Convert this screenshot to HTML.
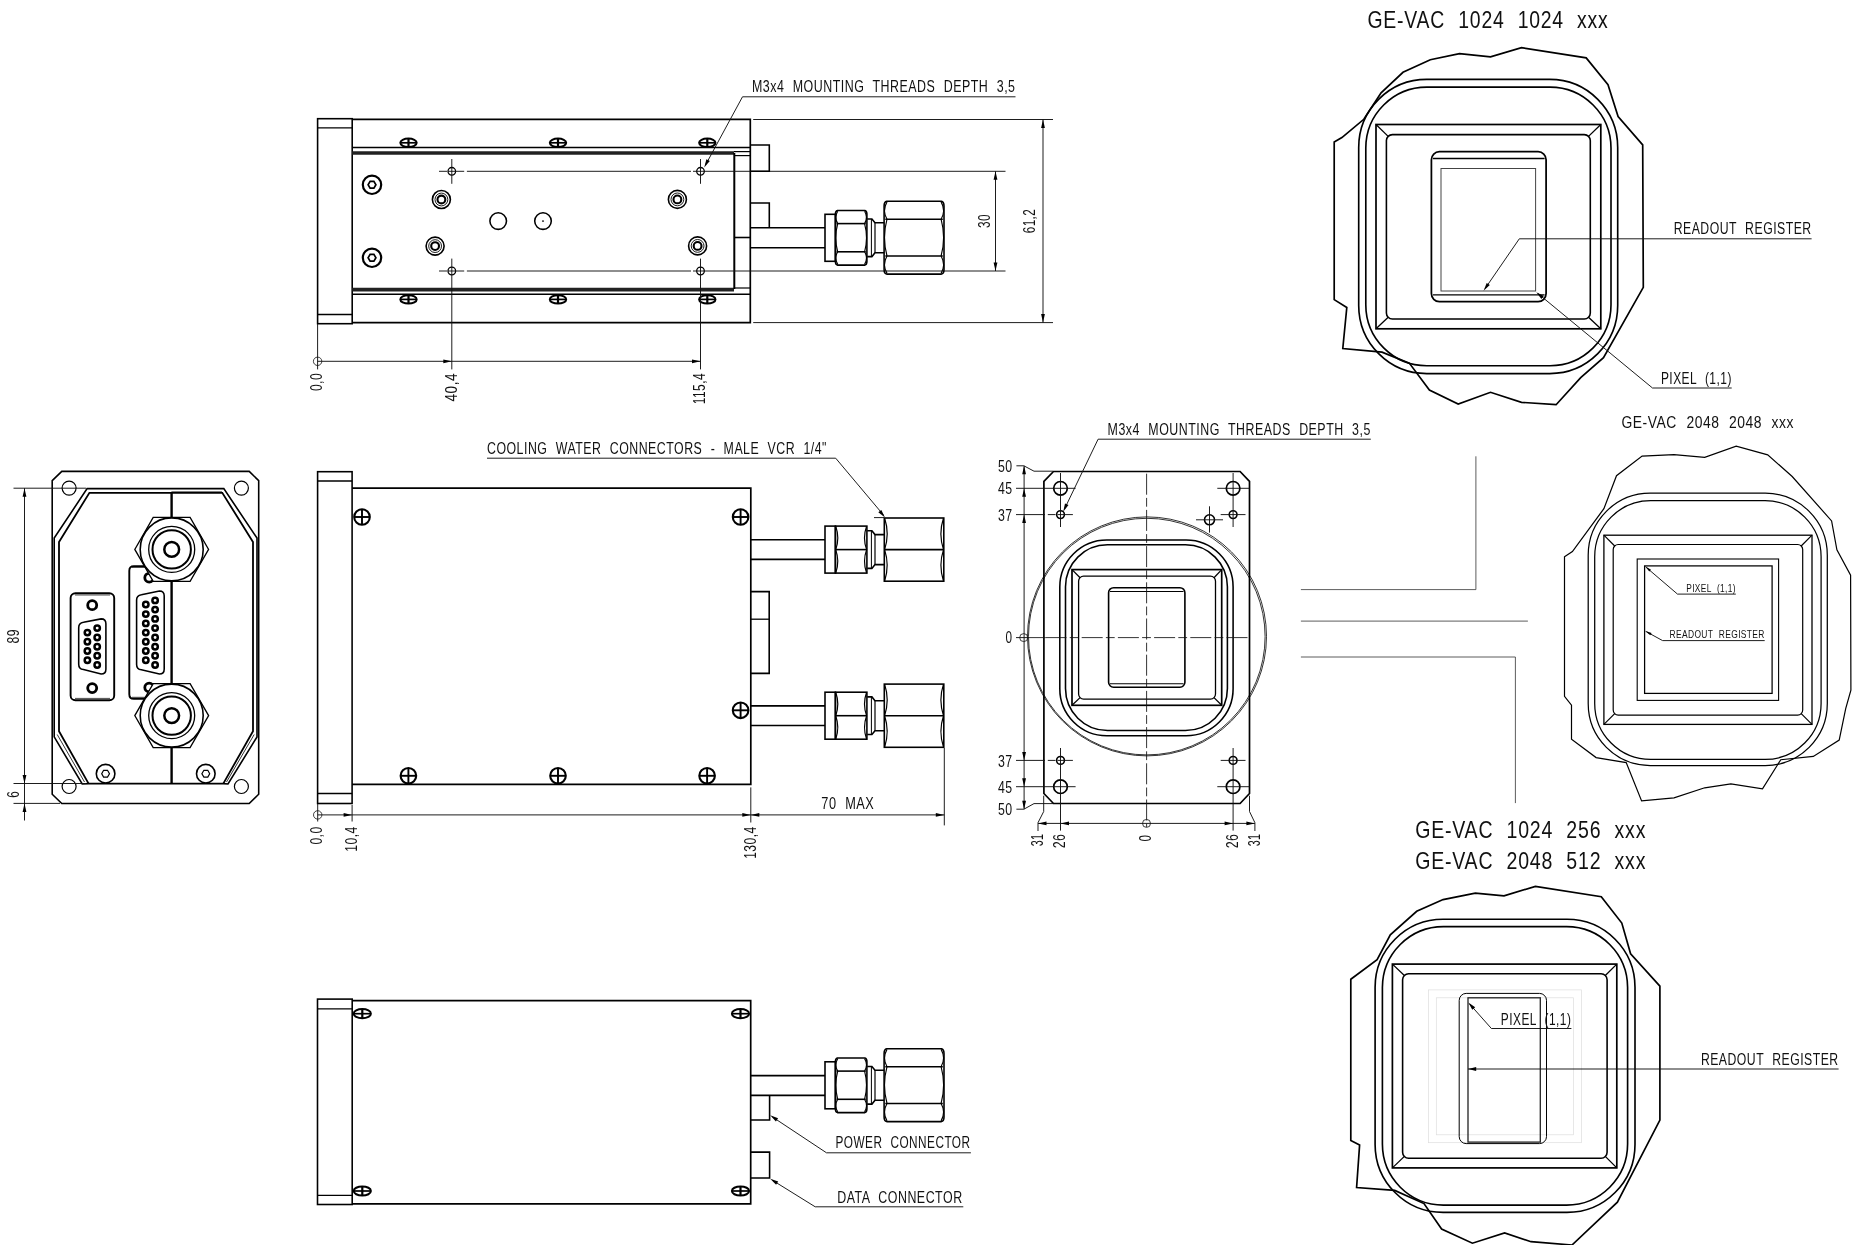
<!DOCTYPE html>
<html lang="en"><head><meta charset="utf-8"><title>GE-VAC mechanical drawing</title>
<style>
html,body{margin:0;padding:0;background:#fff;}
body{width:1867px;height:1245px;overflow:hidden;}
svg{display:block;will-change:transform;}
svg text{font-family:"Liberation Sans",sans-serif;fill:#111;word-spacing:0.36em;letter-spacing:0.04em;}
</style></head><body>
<svg width="1867" height="1245" viewBox="0 0 1867 1245" shape-rendering="geometricPrecision">
<rect x="0" y="0" width="1867" height="1245" fill="#fff"/>
<rect x="317.6" y="118.7" width="34.6" height="205.0" rx="0" fill="none" stroke="#000" stroke-width="1.58"/>
<line x1="317.6" y1="127.8" x2="352.2" y2="127.8" stroke="#000" stroke-width="1.3" />
<line x1="317.6" y1="314.5" x2="352.2" y2="314.5" stroke="#000" stroke-width="1.3" />
<polyline points="352.2,119.4 750.3,119.4 750.3,322.7 352.2,322.7" fill="none" stroke="#000" stroke-width="1.69" stroke-linejoin="miter" />
<line x1="352.2" y1="147.5" x2="750.3" y2="147.5" stroke="#000" stroke-width="1.58" />
<line x1="352.2" y1="153.0" x2="734.0" y2="153.0" stroke="#222" stroke-width="3.6" />
<line x1="734.0" y1="151.6" x2="750.3" y2="151.6" stroke="#000" stroke-width="1.2" />
<line x1="734.0" y1="155.6" x2="750.3" y2="155.6" stroke="#000" stroke-width="1.2" />
<line x1="352.2" y1="289.6" x2="734.0" y2="289.6" stroke="#222" stroke-width="3.6" />
<line x1="734.0" y1="288.0" x2="750.3" y2="288.0" stroke="#000" stroke-width="1.2" />
<line x1="352.2" y1="294.3" x2="750.3" y2="294.3" stroke="#000" stroke-width="1.58" />
<line x1="734.3" y1="153.0" x2="734.3" y2="289.0" stroke="#000" stroke-width="2.0" />
<line x1="734.0" y1="237.5" x2="750.3" y2="237.5" stroke="#000" stroke-width="1.58" />
<ellipse cx="408.5" cy="142.8" rx="8.2" ry="4.2" fill="none" stroke="#000" stroke-width="2.0"/>
<line x1="400.3" y1="142.8" x2="416.7" y2="142.8" stroke="#000" stroke-width="1.69" />
<line x1="408.5" y1="138.6" x2="408.5" y2="147.0" stroke="#000" stroke-width="2.2" />
<ellipse cx="408.5" cy="299.4" rx="8.2" ry="4.2" fill="none" stroke="#000" stroke-width="2.0"/>
<line x1="400.3" y1="299.4" x2="416.7" y2="299.4" stroke="#000" stroke-width="1.69" />
<line x1="408.5" y1="295.2" x2="408.5" y2="303.6" stroke="#000" stroke-width="2.2" />
<ellipse cx="558.0" cy="142.8" rx="8.2" ry="4.2" fill="none" stroke="#000" stroke-width="2.0"/>
<line x1="549.8" y1="142.8" x2="566.2" y2="142.8" stroke="#000" stroke-width="1.69" />
<line x1="558.0" y1="138.6" x2="558.0" y2="147.0" stroke="#000" stroke-width="2.2" />
<ellipse cx="558.0" cy="299.4" rx="8.2" ry="4.2" fill="none" stroke="#000" stroke-width="2.0"/>
<line x1="549.8" y1="299.4" x2="566.2" y2="299.4" stroke="#000" stroke-width="1.69" />
<line x1="558.0" y1="295.2" x2="558.0" y2="303.6" stroke="#000" stroke-width="2.2" />
<ellipse cx="707.3" cy="142.8" rx="8.2" ry="4.2" fill="none" stroke="#000" stroke-width="2.0"/>
<line x1="699.1" y1="142.8" x2="715.5" y2="142.8" stroke="#000" stroke-width="1.69" />
<line x1="707.3" y1="138.6" x2="707.3" y2="147.0" stroke="#000" stroke-width="2.2" />
<ellipse cx="707.3" cy="299.4" rx="8.2" ry="4.2" fill="none" stroke="#000" stroke-width="2.0"/>
<line x1="699.1" y1="299.4" x2="715.5" y2="299.4" stroke="#000" stroke-width="1.69" />
<line x1="707.3" y1="295.2" x2="707.3" y2="303.6" stroke="#000" stroke-width="2.2" />
<circle cx="372.0" cy="184.8" r="9.2" fill="none" stroke="#000" stroke-width="2.2"/>
<polygon points="375.9,184.8 373.9,188.2 370.1,188.2 368.1,184.8 370.1,181.4 373.9,181.4" fill="none" stroke="#000" stroke-width="1.69" stroke-linejoin="miter" />
<circle cx="372.0" cy="257.8" r="9.2" fill="none" stroke="#000" stroke-width="2.2"/>
<polygon points="375.9,257.8 373.9,261.2 370.1,261.2 368.1,257.8 370.1,254.4 373.9,254.4" fill="none" stroke="#000" stroke-width="1.69" stroke-linejoin="miter" />
<circle cx="441.4" cy="199.5" r="9.0" fill="none" stroke="#000" stroke-width="1.6"/>
<circle cx="441.4" cy="199.5" r="6.4" fill="none" stroke="#000" stroke-width="0.9"/>
<circle cx="441.4" cy="199.5" r="3.9" fill="none" stroke="#000" stroke-width="2.1"/>
<circle cx="435.1" cy="246.1" r="9.0" fill="none" stroke="#000" stroke-width="1.6"/>
<circle cx="435.1" cy="246.1" r="6.4" fill="none" stroke="#000" stroke-width="0.9"/>
<circle cx="435.1" cy="246.1" r="3.9" fill="none" stroke="#000" stroke-width="2.1"/>
<circle cx="677.4" cy="199.4" r="9.0" fill="none" stroke="#000" stroke-width="1.6"/>
<circle cx="677.4" cy="199.4" r="6.4" fill="none" stroke="#000" stroke-width="0.9"/>
<circle cx="677.4" cy="199.4" r="3.9" fill="none" stroke="#000" stroke-width="2.1"/>
<circle cx="697.6" cy="245.9" r="9.0" fill="none" stroke="#000" stroke-width="1.6"/>
<circle cx="697.6" cy="245.9" r="6.4" fill="none" stroke="#000" stroke-width="0.9"/>
<circle cx="697.6" cy="245.9" r="3.9" fill="none" stroke="#000" stroke-width="2.1"/>
<circle cx="498.2" cy="221.1" r="8.3" fill="none" stroke="#000" stroke-width="1.56"/>
<circle cx="543.0" cy="221.1" r="8.3" fill="none" stroke="#000" stroke-width="1.56"/>
<circle cx="543.0" cy="221.1" r="0.6" fill="#000" stroke="#000" stroke-width="0.6"/>
<circle cx="451.8" cy="171.3" r="3.8" fill="none" stroke="#000" stroke-width="1.3"/>
<circle cx="700.5" cy="171.3" r="3.8" fill="none" stroke="#000" stroke-width="1.3"/>
<line x1="439.0" y1="171.3" x2="447.0" y2="171.3" stroke="#111" stroke-width="0.95" />
<line x1="448.0" y1="171.3" x2="464.2" y2="171.3" stroke="#111" stroke-width="0.95" />
<line x1="466.9" y1="171.3" x2="691.0" y2="171.3" stroke="#111" stroke-width="0.95" />
<line x1="693.0" y1="171.3" x2="1005.5" y2="171.3" stroke="#111" stroke-width="0.95" />
<circle cx="451.8" cy="271.0" r="3.8" fill="none" stroke="#000" stroke-width="1.3"/>
<circle cx="700.5" cy="271.0" r="3.8" fill="none" stroke="#000" stroke-width="1.3"/>
<line x1="439.0" y1="271.0" x2="447.0" y2="271.0" stroke="#111" stroke-width="0.95" />
<line x1="448.0" y1="271.0" x2="464.2" y2="271.0" stroke="#111" stroke-width="0.95" />
<line x1="466.9" y1="271.0" x2="691.0" y2="271.0" stroke="#111" stroke-width="0.95" />
<line x1="693.0" y1="271.0" x2="1005.5" y2="271.0" stroke="#111" stroke-width="0.95" />
<line x1="451.8" y1="159.0" x2="451.8" y2="183.8" stroke="#111" stroke-width="0.95" />
<line x1="700.5" y1="159.0" x2="700.5" y2="183.8" stroke="#111" stroke-width="0.95" />
<line x1="451.8" y1="258.6" x2="451.8" y2="369.4" stroke="#111" stroke-width="0.95" />
<line x1="700.5" y1="258.6" x2="700.5" y2="369.4" stroke="#111" stroke-width="0.95" />
<polyline points="750.3,145.0 769.3,145.0 769.3,171.3 750.3,171.3" fill="none" stroke="#000" stroke-width="1.58" stroke-linejoin="miter" />
<polyline points="750.3,203.0 769.3,203.0 769.3,227.8" fill="none" stroke="#000" stroke-width="1.58" stroke-linejoin="miter" />
<line x1="750.3" y1="227.8" x2="825.0" y2="227.8" stroke="#000" stroke-width="1.58" />
<line x1="750.3" y1="247.8" x2="825.0" y2="247.8" stroke="#000" stroke-width="1.58" />
<rect x="825.0" y="214.3" width="10.4" height="47.0" rx="0" fill="none" stroke="#000" stroke-width="1.58"/>
<path d="M837.4,210.5 H864.9 Q866.9,211.1 866.9,214.1 V261.5 Q866.9,264.5 864.9,265.1 H837.4 Q835.4,264.5 835.4,261.5 V214.1 Q835.4,211.1 837.4,210.5 Z" fill="none" stroke="#000" stroke-width="1.58" />
<line x1="836.6" y1="223.6" x2="865.7" y2="223.6" stroke="#000" stroke-width="1.58" />
<line x1="836.6" y1="251.8" x2="865.7" y2="251.8" stroke="#000" stroke-width="1.58" />
<path d="M837.7,211.2 Q833.9,217.4 837.7,223.6" fill="none" stroke="#000" stroke-width="1.15" />
<path d="M864.6,211.2 Q868.4,217.4 864.6,223.6" fill="none" stroke="#000" stroke-width="1.15" />
<path d="M837.7,223.6 Q833.9,237.7 837.7,251.8" fill="none" stroke="#000" stroke-width="1.15" />
<path d="M864.6,223.6 Q868.4,237.7 864.6,251.8" fill="none" stroke="#000" stroke-width="1.15" />
<path d="M837.7,251.8 Q833.9,258.1 837.7,264.4" fill="none" stroke="#000" stroke-width="1.15" />
<path d="M864.6,251.8 Q868.4,258.1 864.6,264.4" fill="none" stroke="#000" stroke-width="1.15" />
<path d="M867.2,219.0 H871.9 L875.0,222.8 H884.1 M867.2,256.6 H871.9 L875.0,252.8 H884.1" fill="none" stroke="#000" stroke-width="1.58" />
<line x1="871.4" y1="219.0" x2="871.4" y2="256.6" stroke="#000" stroke-width="1.0" />
<line x1="875.0" y1="222.8" x2="875.0" y2="252.8" stroke="#000" stroke-width="1.2" />
<path d="M886.7,201.2 H941.4 Q944.0,201.8 944.0,205.9 V269.4 Q944.0,273.5 941.4,274.1 H886.7 Q884.1,273.5 884.1,269.4 V205.9 Q884.1,201.8 886.7,201.2 Z" fill="none" stroke="#000" stroke-width="1.58" />
<line x1="885.3" y1="219.2" x2="942.8" y2="219.2" stroke="#000" stroke-width="1.58" />
<line x1="885.3" y1="256.0" x2="942.8" y2="256.0" stroke="#000" stroke-width="1.58" />
<path d="M887.0,201.9 Q882.0,210.6 887.0,219.2" fill="none" stroke="#000" stroke-width="1.15" />
<path d="M941.1,201.9 Q946.1,210.6 941.1,219.2" fill="none" stroke="#000" stroke-width="1.15" />
<path d="M887.0,219.2 Q882.0,237.6 887.0,256.0" fill="none" stroke="#000" stroke-width="1.15" />
<path d="M941.1,219.2 Q946.1,237.6 941.1,256.0" fill="none" stroke="#000" stroke-width="1.15" />
<path d="M887.0,256.0 Q882.0,264.7 887.0,273.4" fill="none" stroke="#000" stroke-width="1.15" />
<path d="M941.1,256.0 Q946.1,264.7 941.1,273.4" fill="none" stroke="#000" stroke-width="1.15" />
<text x="752.0" y="92.1" font-size="16.5" text-anchor="start" textLength="263.5" lengthAdjust="spacingAndGlyphs" >M3x4 MOUNTING THREADS DEPTH 3,5</text>
<line x1="1015.5" y1="96.8" x2="742.5" y2="96.8" stroke="#111" stroke-width="0.95" />
<line x1="742.5" y1="96.8" x2="705.8" y2="164.5" stroke="#111" stroke-width="0.95" />
<polygon points="704.2,167.4 709.8,161.1 706.4,159.3" fill="#000" stroke="none"/>
<line x1="753.2" y1="119.5" x2="1053.0" y2="119.5" stroke="#111" stroke-width="0.95" />
<line x1="753.2" y1="322.6" x2="1053.0" y2="322.6" stroke="#111" stroke-width="0.95" />
<line x1="1043.0" y1="119.5" x2="1043.0" y2="322.6" stroke="#111" stroke-width="0.95" />
<polygon points="1043.0,119.5 1041.1,128.0 1044.9,128.0" fill="#000" stroke="none"/>
<polygon points="1043.0,322.6 1044.9,314.1 1041.1,314.1" fill="#000" stroke="none"/>
<line x1="995.5" y1="171.3" x2="995.5" y2="271.0" stroke="#111" stroke-width="0.95" />
<polygon points="995.5,171.3 993.6,179.8 997.4,179.8" fill="#000" stroke="none"/>
<polygon points="995.5,271.0 997.4,262.5 993.6,262.5" fill="#000" stroke="none"/>
<text x="990.2" y="221.0" font-size="17" text-anchor="middle" textLength="14.1" lengthAdjust="spacingAndGlyphs" transform="rotate(-90 990.2 221.0)" >30</text>
<text x="1035.3" y="221.0" font-size="17" text-anchor="middle" textLength="24.7" lengthAdjust="spacingAndGlyphs" transform="rotate(-90 1035.3 221.0)" >61,2</text>
<line x1="317.6" y1="324.0" x2="317.6" y2="357.0" stroke="#111" stroke-width="0.95" />
<circle cx="317.6" cy="361.3" r="4.2" fill="none" stroke="#111" stroke-width="0.8"/>
<line x1="317.6" y1="361.3" x2="700.5" y2="361.3" stroke="#111" stroke-width="0.95" />
<line x1="317.6" y1="357.0" x2="317.6" y2="369.4" stroke="#111" stroke-width="0.95" />
<polygon points="451.8,361.3 443.3,359.4 443.3,363.2" fill="#000" stroke="none"/>
<polygon points="700.5,361.3 692.0,359.4 692.0,363.2" fill="#000" stroke="none"/>
<text x="322.3" y="372.8" font-size="17" text-anchor="end" textLength="18.3" lengthAdjust="spacingAndGlyphs" transform="rotate(-90 322.3 372.8)" >0,0</text>
<text x="456.6" y="372.8" font-size="17" text-anchor="end" textLength="28.7" lengthAdjust="spacingAndGlyphs" transform="rotate(-90 456.6 372.8)" >40,4</text>
<text x="705.3" y="372.8" font-size="17" text-anchor="end" textLength="31.5" lengthAdjust="spacingAndGlyphs" transform="rotate(-90 705.3 372.8)" >115,4</text>
<polygon points="61.8,471.4 249.2,471.4 258.7,480.6 258.7,794.2 249.2,803.5 61.8,803.5 52.2,794.2 52.2,480.6" fill="none" stroke="#000" stroke-width="1.58" stroke-linejoin="miter" />
<circle cx="69.1" cy="488.1" r="7.0" fill="none" stroke="#000" stroke-width="1.2"/>
<circle cx="241.4" cy="488.1" r="7.0" fill="none" stroke="#000" stroke-width="1.2"/>
<circle cx="69.1" cy="786.5" r="7.0" fill="none" stroke="#000" stroke-width="1.2"/>
<circle cx="241.4" cy="786.5" r="7.0" fill="none" stroke="#000" stroke-width="1.2"/>
<polygon points="87.1,488.6 223.8,488.6 257.0,538.1 257.0,736.9 228.0,784.0 223.5,783.6 88.4,783.6 82.2,784.0 54.2,736.9 54.2,538.1" fill="none" stroke="#000" stroke-width="1.6" stroke-linejoin="miter" />
<polyline points="88.6,783.6 59.0,731.2 59.0,542.0 89.4,492.8 222.3,492.8 253.0,542.0 253.0,731.2 223.3,783.6" fill="none" stroke="#000" stroke-width="1.8" stroke-linejoin="miter" />
<line x1="57.2" y1="734.5" x2="84.5" y2="782.0" stroke="#000" stroke-width="0.8" />
<line x1="254.2" y1="734.5" x2="226.5" y2="782.0" stroke="#000" stroke-width="0.8" />
<line x1="171.6" y1="492.8" x2="171.6" y2="783.6" stroke="#000" stroke-width="2.4" />
<line x1="171.4" y1="492.0" x2="222.0" y2="492.0" stroke="#000" stroke-width="1.0" />
<path d="M171.4,566.1 H133.8 Q129.3,566.1 129.3,570.7 V694.2 Q129.3,698.8 133.8,698.8 H171.4" fill="none" stroke="#000" stroke-width="1.9" />
<line x1="132.0" y1="697.3" x2="171.0" y2="697.3" stroke="#000" stroke-width="0.7" />
<line x1="132.0" y1="567.5" x2="171.0" y2="567.5" stroke="#000" stroke-width="0.7" />
<path d="M136.6,600.1 Q136.6,595.3 141.4,594.7 L159.4,591.0 Q164.2,591.0 164.2,595.8 L164.2,669.2 Q164.2,674.0 159.4,674.0 L141.4,669.8 Q136.6,669.2 136.6,664.4 Z" fill="none" stroke="#000" stroke-width="1.56" />
<circle cx="145.8" cy="604.5" r="2.7" fill="none" stroke="#000" stroke-width="2.5"/>
<circle cx="145.8" cy="614.1" r="2.7" fill="none" stroke="#000" stroke-width="2.5"/>
<circle cx="145.8" cy="623.4" r="2.7" fill="none" stroke="#000" stroke-width="2.5"/>
<circle cx="145.8" cy="632.6" r="2.7" fill="none" stroke="#000" stroke-width="2.5"/>
<circle cx="145.8" cy="641.7" r="2.7" fill="none" stroke="#000" stroke-width="2.5"/>
<circle cx="145.8" cy="651.0" r="2.7" fill="none" stroke="#000" stroke-width="2.5"/>
<circle cx="145.8" cy="660.3" r="2.7" fill="none" stroke="#000" stroke-width="2.5"/>
<circle cx="155.1" cy="600.4" r="2.7" fill="none" stroke="#000" stroke-width="2.5"/>
<circle cx="155.1" cy="609.6" r="2.7" fill="none" stroke="#000" stroke-width="2.5"/>
<circle cx="155.1" cy="618.9" r="2.7" fill="none" stroke="#000" stroke-width="2.5"/>
<circle cx="155.1" cy="628.1" r="2.7" fill="none" stroke="#000" stroke-width="2.5"/>
<circle cx="155.1" cy="637.5" r="2.7" fill="none" stroke="#000" stroke-width="2.5"/>
<circle cx="155.1" cy="646.7" r="2.7" fill="none" stroke="#000" stroke-width="2.5"/>
<circle cx="155.1" cy="655.8" r="2.7" fill="none" stroke="#000" stroke-width="2.5"/>
<circle cx="155.1" cy="665.0" r="2.7" fill="none" stroke="#000" stroke-width="2.5"/>
<circle cx="149.2" cy="577.7" r="4.4" fill="none" stroke="#000" stroke-width="2.8"/>
<circle cx="149.2" cy="687.5" r="4.4" fill="none" stroke="#000" stroke-width="2.8"/>
<rect x="70.6" y="593.2" width="43.6" height="107.0" rx="4.8" fill="none" stroke="#000" stroke-width="1.9"/>
<line x1="75.0" y1="595.0" x2="110.0" y2="595.0" stroke="#000" stroke-width="0.7" />
<line x1="75.0" y1="698.4" x2="110.0" y2="698.4" stroke="#000" stroke-width="0.7" />
<path d="M78.7,627.7 Q78.7,622.9 83.5,622.3 L101.1,618.9 Q105.9,618.9 105.9,623.7 L105.9,669.2 Q105.9,674.0 101.1,674.0 L83.5,669.6 Q78.7,669.0 78.7,664.2 Z" fill="none" stroke="#000" stroke-width="1.56" />
<circle cx="87.4" cy="632.6" r="2.7" fill="none" stroke="#000" stroke-width="2.5"/>
<circle cx="87.4" cy="641.7" r="2.7" fill="none" stroke="#000" stroke-width="2.5"/>
<circle cx="87.4" cy="651.0" r="2.7" fill="none" stroke="#000" stroke-width="2.5"/>
<circle cx="87.4" cy="660.3" r="2.7" fill="none" stroke="#000" stroke-width="2.5"/>
<circle cx="97.2" cy="628.1" r="2.7" fill="none" stroke="#000" stroke-width="2.5"/>
<circle cx="97.2" cy="637.5" r="2.7" fill="none" stroke="#000" stroke-width="2.5"/>
<circle cx="97.2" cy="646.7" r="2.7" fill="none" stroke="#000" stroke-width="2.5"/>
<circle cx="97.2" cy="655.8" r="2.7" fill="none" stroke="#000" stroke-width="2.5"/>
<circle cx="97.2" cy="665.0" r="2.7" fill="none" stroke="#000" stroke-width="2.5"/>
<circle cx="92.2" cy="605.2" r="4.5" fill="none" stroke="#000" stroke-width="2.8"/>
<circle cx="92.2" cy="688.1" r="4.5" fill="none" stroke="#000" stroke-width="2.8"/>
<polygon points="208.6,549.4 190.1,581.4 153.2,581.4 134.8,549.4 153.2,517.4 190.1,517.4" fill="#fff" stroke="#000" stroke-width="1.3" stroke-linejoin="miter" />
<circle cx="171.7" cy="549.4" r="31.5" fill="none" stroke="#000" stroke-width="1.58"/>
<circle cx="171.7" cy="549.4" r="23.0" fill="none" stroke="#000" stroke-width="1.3"/>
<circle cx="171.7" cy="549.4" r="19.2" fill="none" stroke="#000" stroke-width="2.0"/>
<circle cx="171.7" cy="549.4" r="7.4" fill="none" stroke="#000" stroke-width="2.5"/>
<polygon points="208.6,715.6 190.1,747.6 153.2,747.6 134.8,715.6 153.2,683.6 190.1,683.6" fill="#fff" stroke="#000" stroke-width="1.3" stroke-linejoin="miter" />
<circle cx="171.7" cy="715.6" r="31.5" fill="none" stroke="#000" stroke-width="1.58"/>
<circle cx="171.7" cy="715.6" r="23.0" fill="none" stroke="#000" stroke-width="1.3"/>
<circle cx="171.7" cy="715.6" r="19.2" fill="none" stroke="#000" stroke-width="2.0"/>
<circle cx="171.7" cy="715.6" r="7.4" fill="none" stroke="#000" stroke-width="2.5"/>
<circle cx="105.6" cy="773.7" r="9.3" fill="none" stroke="#000" stroke-width="1.6"/>
<polygon points="109.5,773.7 107.5,777.1 103.6,777.1 101.7,773.7 103.6,770.3 107.5,770.3" fill="none" stroke="#000" stroke-width="1.2" stroke-linejoin="miter" />
<circle cx="205.8" cy="773.7" r="9.3" fill="none" stroke="#000" stroke-width="1.6"/>
<polygon points="209.7,773.7 207.8,777.1 203.9,777.1 201.9,773.7 203.9,770.3 207.8,770.3" fill="none" stroke="#000" stroke-width="1.2" stroke-linejoin="miter" />
<line x1="13.5" y1="488.2" x2="86.0" y2="488.2" stroke="#111" stroke-width="0.95" />
<line x1="13.5" y1="783.5" x2="86.0" y2="783.5" stroke="#111" stroke-width="0.95" />
<line x1="13.5" y1="803.4" x2="60.0" y2="803.4" stroke="#111" stroke-width="0.95" />
<line x1="24.5" y1="488.2" x2="24.5" y2="820.5" stroke="#111" stroke-width="0.95" />
<polygon points="24.5,488.2 22.6,496.7 26.4,496.7" fill="#000" stroke="none"/>
<polygon points="24.5,783.5 26.4,775.0 22.6,775.0" fill="#000" stroke="none"/>
<polygon points="24.5,803.4 22.6,811.9 26.4,811.9" fill="#000" stroke="none"/>
<text x="19.3" y="636.3" font-size="17" text-anchor="middle" textLength="14.5" lengthAdjust="spacingAndGlyphs" transform="rotate(-90 19.3 636.3)" >89</text>
<text x="19.3" y="794.2" font-size="17" text-anchor="middle" textLength="7.0" lengthAdjust="spacingAndGlyphs" transform="rotate(-90 19.3 794.2)" >6</text>
<rect x="317.6" y="471.7" width="34.5" height="331.8" rx="0" fill="none" stroke="#000" stroke-width="1.58"/>
<line x1="317.6" y1="481.0" x2="352.1" y2="481.0" stroke="#000" stroke-width="1.3" />
<line x1="317.6" y1="793.5" x2="352.1" y2="793.5" stroke="#000" stroke-width="1.3" />
<polyline points="352.1,488.1 750.8,488.1 750.8,784.3 352.1,784.3" fill="none" stroke="#000" stroke-width="1.69" stroke-linejoin="miter" />
<circle cx="362.0" cy="517.0" r="7.8" fill="none" stroke="#000" stroke-width="2.1"/>
<line x1="354.2" y1="517.0" x2="369.8" y2="517.0" stroke="#000" stroke-width="1.9" />
<line x1="362.0" y1="509.2" x2="362.0" y2="524.8" stroke="#000" stroke-width="1.9" />
<circle cx="740.6" cy="517.0" r="7.8" fill="none" stroke="#000" stroke-width="2.1"/>
<line x1="732.8" y1="517.0" x2="748.4" y2="517.0" stroke="#000" stroke-width="1.9" />
<line x1="740.6" y1="509.2" x2="740.6" y2="524.8" stroke="#000" stroke-width="1.9" />
<circle cx="740.6" cy="710.3" r="7.8" fill="none" stroke="#000" stroke-width="2.1"/>
<line x1="732.8" y1="710.3" x2="748.4" y2="710.3" stroke="#000" stroke-width="1.9" />
<line x1="740.6" y1="702.5" x2="740.6" y2="718.1" stroke="#000" stroke-width="1.9" />
<circle cx="408.4" cy="775.8" r="7.8" fill="none" stroke="#000" stroke-width="2.1"/>
<line x1="400.6" y1="775.8" x2="416.2" y2="775.8" stroke="#000" stroke-width="1.9" />
<line x1="408.4" y1="768.0" x2="408.4" y2="783.6" stroke="#000" stroke-width="1.9" />
<circle cx="558.0" cy="775.8" r="7.8" fill="none" stroke="#000" stroke-width="2.1"/>
<line x1="550.2" y1="775.8" x2="565.8" y2="775.8" stroke="#000" stroke-width="1.9" />
<line x1="558.0" y1="768.0" x2="558.0" y2="783.6" stroke="#000" stroke-width="1.9" />
<circle cx="707.1" cy="775.8" r="7.8" fill="none" stroke="#000" stroke-width="2.1"/>
<line x1="699.3" y1="775.8" x2="714.9" y2="775.8" stroke="#000" stroke-width="1.9" />
<line x1="707.1" y1="768.0" x2="707.1" y2="783.6" stroke="#000" stroke-width="1.9" />
<line x1="750.8" y1="539.8" x2="825.0" y2="539.8" stroke="#000" stroke-width="1.58" />
<line x1="750.8" y1="559.4" x2="825.0" y2="559.4" stroke="#000" stroke-width="1.58" />
<rect x="825.0" y="526.1" width="10.4" height="47.0" rx="0" fill="none" stroke="#000" stroke-width="1.58"/>
<rect x="835.4" y="526.1" width="31.5" height="47.0" rx="0" fill="none" stroke="#000" stroke-width="1.58"/>
<line x1="835.4" y1="549.6" x2="866.9" y2="549.6" stroke="#000" stroke-width="1.58" />
<path d="M835.7,526.1 Q839.9,537.9 835.7,549.6" fill="none" stroke="#000" stroke-width="1.2" />
<path d="M866.6,526.1 Q862.4,537.9 866.6,549.6" fill="none" stroke="#000" stroke-width="1.2" />
<path d="M835.7,549.6 Q839.9,561.4 835.7,573.1" fill="none" stroke="#000" stroke-width="1.2" />
<path d="M866.6,549.6 Q862.4,561.4 866.6,573.1" fill="none" stroke="#000" stroke-width="1.2" />
<path d="M867.2,530.8 H871.9 L875.0,534.6 H884.3 M867.2,568.4 H871.9 L875.0,564.6 H884.3" fill="none" stroke="#000" stroke-width="1.58" />
<line x1="871.4" y1="530.8" x2="871.4" y2="568.4" stroke="#000" stroke-width="1.0" />
<line x1="875.0" y1="534.6" x2="875.0" y2="564.6" stroke="#000" stroke-width="1.2" />
<rect x="884.3" y="518.0" width="59.5" height="63.2" rx="0" fill="none" stroke="#000" stroke-width="1.58"/>
<line x1="884.3" y1="549.6" x2="943.8" y2="549.6" stroke="#000" stroke-width="1.58" />
<path d="M884.6,518.0 Q889.8,533.8 884.6,549.6" fill="none" stroke="#000" stroke-width="1.2" />
<path d="M943.5,518.0 Q938.3,533.8 943.5,549.6" fill="none" stroke="#000" stroke-width="1.2" />
<path d="M884.6,549.6 Q889.8,565.4 884.6,581.2" fill="none" stroke="#000" stroke-width="1.2" />
<path d="M943.5,549.6 Q938.3,565.4 943.5,581.2" fill="none" stroke="#000" stroke-width="1.2" />
<line x1="750.8" y1="705.9" x2="825.0" y2="705.9" stroke="#000" stroke-width="1.58" />
<line x1="750.8" y1="725.5" x2="825.0" y2="725.5" stroke="#000" stroke-width="1.58" />
<rect x="825.0" y="692.2" width="10.4" height="47.0" rx="0" fill="none" stroke="#000" stroke-width="1.58"/>
<rect x="835.4" y="692.2" width="31.5" height="47.0" rx="0" fill="none" stroke="#000" stroke-width="1.58"/>
<line x1="835.4" y1="715.7" x2="866.9" y2="715.7" stroke="#000" stroke-width="1.58" />
<path d="M835.7,692.2 Q839.9,704.0 835.7,715.7" fill="none" stroke="#000" stroke-width="1.2" />
<path d="M866.6,692.2 Q862.4,704.0 866.6,715.7" fill="none" stroke="#000" stroke-width="1.2" />
<path d="M835.7,715.7 Q839.9,727.5 835.7,739.2" fill="none" stroke="#000" stroke-width="1.2" />
<path d="M866.6,715.7 Q862.4,727.5 866.6,739.2" fill="none" stroke="#000" stroke-width="1.2" />
<path d="M867.2,696.9 H871.9 L875.0,700.7 H884.3 M867.2,734.5 H871.9 L875.0,730.7 H884.3" fill="none" stroke="#000" stroke-width="1.58" />
<line x1="871.4" y1="696.9" x2="871.4" y2="734.5" stroke="#000" stroke-width="1.0" />
<line x1="875.0" y1="700.7" x2="875.0" y2="730.7" stroke="#000" stroke-width="1.2" />
<rect x="884.3" y="684.1" width="59.5" height="63.2" rx="0" fill="none" stroke="#000" stroke-width="1.58"/>
<line x1="884.3" y1="715.7" x2="943.8" y2="715.7" stroke="#000" stroke-width="1.58" />
<path d="M884.6,684.1 Q889.8,699.9 884.6,715.7" fill="none" stroke="#000" stroke-width="1.2" />
<path d="M943.5,684.1 Q938.3,699.9 943.5,715.7" fill="none" stroke="#000" stroke-width="1.2" />
<path d="M884.6,715.7 Q889.8,731.5 884.6,747.3" fill="none" stroke="#000" stroke-width="1.2" />
<path d="M943.5,715.7 Q938.3,731.5 943.5,747.3" fill="none" stroke="#000" stroke-width="1.2" />
<polyline points="750.8,591.6 769.2,591.6 769.2,673.4 750.8,673.4" fill="none" stroke="#000" stroke-width="1.58" stroke-linejoin="miter" />
<line x1="750.8" y1="619.2" x2="769.2" y2="619.2" stroke="#000" stroke-width="1.3" />
<text x="487.0" y="453.7" font-size="16" text-anchor="start" textLength="340.0" lengthAdjust="spacingAndGlyphs" >COOLING WATER CONNECTORS - MALE VCR 1/4&quot;</text>
<line x1="487.0" y1="458.2" x2="835.7" y2="458.2" stroke="#111" stroke-width="0.95" />
<line x1="835.7" y1="458.2" x2="883.3" y2="514.8" stroke="#111" stroke-width="0.95" />
<polygon points="885.0,517.4 881.3,509.9 878.3,512.3" fill="#000" stroke="none"/>
<line x1="874.0" y1="517.6" x2="884.0" y2="517.6" stroke="#111" stroke-width="0.95" />
<circle cx="317.7" cy="814.9" r="4.2" fill="none" stroke="#111" stroke-width="0.8"/>
<line x1="317.7" y1="814.9" x2="944.3" y2="814.9" stroke="#111" stroke-width="0.95" />
<line x1="317.7" y1="804.0" x2="317.7" y2="821.5" stroke="#111" stroke-width="0.95" />
<line x1="352.1" y1="805.0" x2="352.1" y2="821.5" stroke="#111" stroke-width="0.95" />
<line x1="750.8" y1="787.4" x2="750.8" y2="822.5" stroke="#111" stroke-width="0.95" />
<line x1="944.3" y1="748.0" x2="944.3" y2="825.4" stroke="#111" stroke-width="0.95" />
<polygon points="352.1,814.9 343.6,813.0 343.6,816.8" fill="#000" stroke="none"/>
<polygon points="750.8,814.9 742.3,813.0 742.3,816.8" fill="#000" stroke="none"/>
<polygon points="750.8,814.9 759.3,816.8 759.3,813.0" fill="#000" stroke="none"/>
<polygon points="944.3,814.9 935.8,813.0 935.8,816.8" fill="#000" stroke="none"/>
<text x="322.4" y="826.3" font-size="17" text-anchor="end" textLength="18.3" lengthAdjust="spacingAndGlyphs" transform="rotate(-90 322.4 826.3)" >0,0</text>
<text x="356.9" y="826.3" font-size="17" text-anchor="end" textLength="25.5" lengthAdjust="spacingAndGlyphs" transform="rotate(-90 356.9 826.3)" >10,4</text>
<text x="755.6" y="826.3" font-size="17" text-anchor="end" textLength="32.5" lengthAdjust="spacingAndGlyphs" transform="rotate(-90 755.6 826.3)" >130,4</text>
<text x="821.3" y="809.0" font-size="16.5" text-anchor="start" textLength="53.0" lengthAdjust="spacingAndGlyphs" >70 MAX</text>
<polygon points="1053.5,471.5 1240.1,471.5 1249.5,481.4 1249.5,793.5 1240.1,803.5 1053.5,803.5 1043.9,793.5 1043.9,481.4" fill="none" stroke="#000" stroke-width="1.7" stroke-linejoin="miter" />
<circle cx="1146.8" cy="636.6" r="118.3" fill="none" stroke="#000" stroke-width="0.8"/>
<circle cx="1147.0" cy="636.4" r="119.5" fill="none" stroke="#000" stroke-width="0.8"/>
<rect x="1059.8" y="540.0" width="173.3" height="195.7" rx="47" fill="none" stroke="#000" stroke-width="1.56"/>
<rect x="1065.5" y="544.8" width="161.9" height="185.7" rx="42" fill="none" stroke="#000" stroke-width="1.56"/>
<rect x="1072.0" y="569.6" width="149.7" height="135.7" rx="0" fill="none" stroke="#000" stroke-width="1.7"/>
<rect x="1078.6" y="576.2" width="136.9" height="122.9" rx="5" fill="none" stroke="#000" stroke-width="1.3"/>
<line x1="1072.0" y1="569.6" x2="1080.1" y2="577.7" stroke="#000" stroke-width="1.3" />
<line x1="1221.7" y1="569.6" x2="1214.0" y2="577.7" stroke="#000" stroke-width="1.3" />
<line x1="1072.0" y1="705.3" x2="1080.1" y2="697.6" stroke="#000" stroke-width="1.3" />
<line x1="1221.7" y1="705.3" x2="1214.0" y2="697.6" stroke="#000" stroke-width="1.3" />
<rect x="1108.6" y="587.7" width="76.3" height="99.5" rx="5" fill="none" stroke="#000" stroke-width="1.6"/>
<line x1="1110.0" y1="591.5" x2="1183.5" y2="591.5" stroke="#000" stroke-width="1.1" />
<line x1="1110.0" y1="683.7" x2="1183.5" y2="683.7" stroke="#000" stroke-width="1.1" />
<circle cx="1060.5" cy="488.3" r="6.8" fill="none" stroke="#000" stroke-width="1.7"/>
<circle cx="1233.1" cy="488.3" r="6.8" fill="none" stroke="#000" stroke-width="1.7"/>
<circle cx="1060.5" cy="786.7" r="6.8" fill="none" stroke="#000" stroke-width="1.7"/>
<circle cx="1233.1" cy="786.7" r="6.8" fill="none" stroke="#000" stroke-width="1.7"/>
<circle cx="1060.5" cy="514.6" r="3.9" fill="none" stroke="#000" stroke-width="1.58"/>
<circle cx="1233.1" cy="514.6" r="3.9" fill="none" stroke="#000" stroke-width="1.58"/>
<circle cx="1060.5" cy="760.4" r="3.9" fill="none" stroke="#000" stroke-width="1.58"/>
<circle cx="1233.1" cy="760.4" r="3.9" fill="none" stroke="#000" stroke-width="1.58"/>
<circle cx="1209.5" cy="519.8" r="5.0" fill="none" stroke="#000" stroke-width="1.58"/>
<line x1="1196.0" y1="519.8" x2="1223.0" y2="519.8" stroke="#111" stroke-width="0.95" />
<line x1="1209.5" y1="506.3" x2="1209.5" y2="532.6" stroke="#111" stroke-width="0.95" />
<line x1="1146.6" y1="473.7" x2="1146.6" y2="827.0" stroke="#111" stroke-width="0.85" stroke-dasharray="21 3.2 8.8 3.2"/>
<line x1="1045.5" y1="637.6" x2="1249.0" y2="637.6" stroke="#111" stroke-width="0.85" stroke-dasharray="21 3.2 8.8 3.2"/>
<line x1="1028.0" y1="637.6" x2="1045.5" y2="637.6" stroke="#111" stroke-width="0.85" />
<circle cx="1023.7" cy="637.6" r="4.0" fill="none" stroke="#111" stroke-width="0.8"/>
<line x1="1016.0" y1="637.6" x2="1028.0" y2="637.6" stroke="#111" stroke-width="0.95" />
<line x1="1024.1" y1="465.8" x2="1024.1" y2="809.2" stroke="#111" stroke-width="0.95" />
<line x1="1016.4" y1="465.8" x2="1023.9" y2="465.8" stroke="#111" stroke-width="0.95" />
<line x1="1023.9" y1="465.8" x2="1034.0" y2="471.2" stroke="#111" stroke-width="0.95" />
<line x1="1034.0" y1="471.2" x2="1053.0" y2="471.2" stroke="#111" stroke-width="0.95" />
<line x1="1016.4" y1="809.2" x2="1023.9" y2="809.2" stroke="#111" stroke-width="0.95" />
<line x1="1023.9" y1="809.2" x2="1034.0" y2="803.6" stroke="#111" stroke-width="0.95" />
<line x1="1034.0" y1="803.6" x2="1053.0" y2="803.6" stroke="#111" stroke-width="0.95" />
<line x1="1016.0" y1="488.3" x2="1075.6" y2="488.3" stroke="#111" stroke-width="0.95" />
<line x1="1217.3" y1="488.3" x2="1249.5" y2="488.3" stroke="#111" stroke-width="0.95" />
<line x1="1016.0" y1="786.7" x2="1075.6" y2="786.7" stroke="#111" stroke-width="0.95" />
<line x1="1217.3" y1="786.7" x2="1249.5" y2="786.7" stroke="#111" stroke-width="0.95" />
<line x1="1016.0" y1="514.6" x2="1045.0" y2="514.6" stroke="#111" stroke-width="0.95" />
<line x1="1047.8" y1="514.6" x2="1055.5" y2="514.6" stroke="#111" stroke-width="0.95" />
<line x1="1057.5" y1="514.6" x2="1072.9" y2="514.6" stroke="#111" stroke-width="0.95" />
<line x1="1220.7" y1="514.6" x2="1245.5" y2="514.6" stroke="#111" stroke-width="0.95" />
<line x1="1016.0" y1="760.4" x2="1045.0" y2="760.4" stroke="#111" stroke-width="0.95" />
<line x1="1047.8" y1="760.4" x2="1055.5" y2="760.4" stroke="#111" stroke-width="0.95" />
<line x1="1057.5" y1="760.4" x2="1072.9" y2="760.4" stroke="#111" stroke-width="0.95" />
<line x1="1220.7" y1="760.4" x2="1245.5" y2="760.4" stroke="#111" stroke-width="0.95" />
<line x1="1060.5" y1="473.0" x2="1060.5" y2="527.0" stroke="#111" stroke-width="0.95" />
<line x1="1060.5" y1="748.0" x2="1060.5" y2="830.6" stroke="#111" stroke-width="0.95" />
<line x1="1233.1" y1="473.0" x2="1233.1" y2="527.0" stroke="#111" stroke-width="0.95" />
<line x1="1233.1" y1="748.0" x2="1233.1" y2="830.6" stroke="#111" stroke-width="0.95" />
<polygon points="1024.1,465.8 1022.2,474.3 1026.0,474.3" fill="#000" stroke="none"/>
<polygon points="1024.1,488.3 1022.2,496.8 1026.0,496.8" fill="#000" stroke="none"/>
<polygon points="1024.1,514.6 1022.2,523.1 1026.0,523.1" fill="#000" stroke="none"/>
<polygon points="1024.1,760.4 1026.0,751.9 1022.2,751.9" fill="#000" stroke="none"/>
<polygon points="1024.1,786.7 1026.0,778.2 1022.2,778.2" fill="#000" stroke="none"/>
<polygon points="1024.1,809.2 1026.0,800.7 1022.2,800.7" fill="#000" stroke="none"/>
<text x="1012.6" y="471.9" font-size="17.1" text-anchor="end" textLength="14.7" lengthAdjust="spacingAndGlyphs" >50</text>
<text x="1012.6" y="493.9" font-size="17.1" text-anchor="end" textLength="14.7" lengthAdjust="spacingAndGlyphs" >45</text>
<text x="1012.6" y="520.9" font-size="17.1" text-anchor="end" textLength="14.7" lengthAdjust="spacingAndGlyphs" >37</text>
<text x="1012.6" y="766.6" font-size="17.1" text-anchor="end" textLength="14.7" lengthAdjust="spacingAndGlyphs" >37</text>
<text x="1012.6" y="792.9" font-size="17.1" text-anchor="end" textLength="14.7" lengthAdjust="spacingAndGlyphs" >45</text>
<text x="1012.6" y="815.4" font-size="17.1" text-anchor="end" textLength="14.7" lengthAdjust="spacingAndGlyphs" >50</text>
<text x="1012.6" y="643.4" font-size="17.1" text-anchor="end" textLength="7.0" lengthAdjust="spacingAndGlyphs" >0</text>
<line x1="1038.0" y1="823.4" x2="1254.9" y2="823.4" stroke="#111" stroke-width="0.95" />
<circle cx="1146.5" cy="823.4" r="4.0" fill="none" stroke="#111" stroke-width="0.8"/>
<line x1="1038.0" y1="822.7" x2="1038.0" y2="831.0" stroke="#111" stroke-width="0.95" />
<line x1="1254.9" y1="822.7" x2="1254.9" y2="831.0" stroke="#111" stroke-width="0.95" />
<line x1="1043.7" y1="795.7" x2="1043.7" y2="811.5" stroke="#111" stroke-width="0.95" />
<line x1="1043.7" y1="811.5" x2="1038.0" y2="822.7" stroke="#111" stroke-width="0.95" />
<line x1="1249.5" y1="795.7" x2="1249.5" y2="811.5" stroke="#111" stroke-width="0.95" />
<line x1="1249.5" y1="811.5" x2="1254.9" y2="822.7" stroke="#111" stroke-width="0.95" />
<polygon points="1038.0,823.4 1046.5,825.3 1046.5,821.5" fill="#000" stroke="none"/>
<polygon points="1060.5,823.4 1069.0,825.3 1069.0,821.5" fill="#000" stroke="none"/>
<polygon points="1233.1,823.4 1224.6,821.5 1224.6,825.3" fill="#000" stroke="none"/>
<polygon points="1254.9,823.4 1246.4,821.5 1246.4,825.3" fill="#000" stroke="none"/>
<text x="1042.8" y="833.5" font-size="17" text-anchor="end" textLength="12.8" lengthAdjust="spacingAndGlyphs" transform="rotate(-90 1042.8 833.5)" >31</text>
<text x="1065.3" y="833.5" font-size="17" text-anchor="end" textLength="14.8" lengthAdjust="spacingAndGlyphs" transform="rotate(-90 1065.3 833.5)" >26</text>
<text x="1151.3" y="834.5" font-size="17" text-anchor="end" textLength="7.0" lengthAdjust="spacingAndGlyphs" transform="rotate(-90 1151.3 834.5)" >0</text>
<text x="1237.9" y="833.5" font-size="17" text-anchor="end" textLength="14.8" lengthAdjust="spacingAndGlyphs" transform="rotate(-90 1237.9 833.5)" >26</text>
<text x="1260.2" y="833.5" font-size="17" text-anchor="end" textLength="12.8" lengthAdjust="spacingAndGlyphs" transform="rotate(-90 1260.2 833.5)" >31</text>
<text x="1107.6" y="435.2" font-size="15.6" text-anchor="start" textLength="263.2" lengthAdjust="spacingAndGlyphs" >M3x4 MOUNTING THREADS DEPTH 3,5</text>
<line x1="1370.8" y1="439.2" x2="1098.1" y2="439.2" stroke="#111" stroke-width="0.95" />
<line x1="1098.1" y1="439.2" x2="1064.6" y2="508.8" stroke="#111" stroke-width="0.95" />
<polygon points="1063.2,511.7 1068.5,505.1 1065.0,503.5" fill="#000" stroke="none"/>
<line x1="1300.9" y1="589.6" x2="1475.9" y2="589.6" stroke="#333" stroke-width="0.8" />
<line x1="1475.9" y1="589.6" x2="1475.9" y2="456.3" stroke="#333" stroke-width="0.8" />
<line x1="1300.9" y1="621.1" x2="1527.9" y2="621.1" stroke="#333" stroke-width="0.8" />
<line x1="1300.9" y1="657.0" x2="1515.4" y2="657.0" stroke="#333" stroke-width="0.8" />
<line x1="1515.4" y1="657.0" x2="1515.4" y2="803.1" stroke="#333" stroke-width="0.8" />
<rect x="317.5" y="999.1" width="34.7" height="205.4" rx="0" fill="none" stroke="#000" stroke-width="1.58"/>
<line x1="317.5" y1="1008.8" x2="352.2" y2="1008.8" stroke="#000" stroke-width="1.3" />
<line x1="317.5" y1="1195.3" x2="352.2" y2="1195.3" stroke="#000" stroke-width="1.3" />
<polyline points="352.2,1000.7 750.7,1000.7 750.7,1203.8 352.2,1203.8" fill="none" stroke="#000" stroke-width="1.69" stroke-linejoin="miter" />
<ellipse cx="362.3" cy="1013.7" rx="8.6" ry="4.6" fill="none" stroke="#000" stroke-width="2.0"/>
<line x1="353.7" y1="1013.7" x2="370.9" y2="1013.7" stroke="#000" stroke-width="1.69" />
<line x1="362.3" y1="1009.1" x2="362.3" y2="1018.3" stroke="#000" stroke-width="2.2" />
<ellipse cx="362.3" cy="1191.0" rx="8.6" ry="4.6" fill="none" stroke="#000" stroke-width="2.0"/>
<line x1="353.7" y1="1191.0" x2="370.9" y2="1191.0" stroke="#000" stroke-width="1.69" />
<line x1="362.3" y1="1186.4" x2="362.3" y2="1195.6" stroke="#000" stroke-width="2.2" />
<ellipse cx="740.5" cy="1013.7" rx="8.6" ry="4.6" fill="none" stroke="#000" stroke-width="2.0"/>
<line x1="731.9" y1="1013.7" x2="749.1" y2="1013.7" stroke="#000" stroke-width="1.69" />
<line x1="740.5" y1="1009.1" x2="740.5" y2="1018.3" stroke="#000" stroke-width="2.2" />
<ellipse cx="740.5" cy="1191.0" rx="8.6" ry="4.6" fill="none" stroke="#000" stroke-width="2.0"/>
<line x1="731.9" y1="1191.0" x2="749.1" y2="1191.0" stroke="#000" stroke-width="1.69" />
<line x1="740.5" y1="1186.4" x2="740.5" y2="1195.6" stroke="#000" stroke-width="2.2" />
<line x1="750.7" y1="1075.6" x2="825.0" y2="1075.6" stroke="#000" stroke-width="1.58" />
<line x1="750.7" y1="1095.4" x2="825.0" y2="1095.4" stroke="#000" stroke-width="1.58" />
<rect x="825.0" y="1061.8" width="10.4" height="47.0" rx="0" fill="none" stroke="#000" stroke-width="1.58"/>
<path d="M837.4,1058.0 H864.9 Q866.9,1058.6 866.9,1061.6 V1109.0 Q866.9,1112.0 864.9,1112.6 H837.4 Q835.4,1112.0 835.4,1109.0 V1061.6 Q835.4,1058.6 837.4,1058.0 Z" fill="none" stroke="#000" stroke-width="1.58" />
<line x1="836.6" y1="1071.1" x2="865.7" y2="1071.1" stroke="#000" stroke-width="1.58" />
<line x1="836.6" y1="1099.3" x2="865.7" y2="1099.3" stroke="#000" stroke-width="1.58" />
<path d="M837.7,1058.7 Q833.9,1064.9 837.7,1071.1" fill="none" stroke="#000" stroke-width="1.15" />
<path d="M864.6,1058.7 Q868.4,1064.9 864.6,1071.1" fill="none" stroke="#000" stroke-width="1.15" />
<path d="M837.7,1071.1 Q833.9,1085.2 837.7,1099.3" fill="none" stroke="#000" stroke-width="1.15" />
<path d="M864.6,1071.1 Q868.4,1085.2 864.6,1099.3" fill="none" stroke="#000" stroke-width="1.15" />
<path d="M837.7,1099.3 Q833.9,1105.6 837.7,1111.9" fill="none" stroke="#000" stroke-width="1.15" />
<path d="M864.6,1099.3 Q868.4,1105.6 864.6,1111.9" fill="none" stroke="#000" stroke-width="1.15" />
<path d="M867.2,1066.5 H871.9 L875.0,1070.3 H884.1 M867.2,1104.1 H871.9 L875.0,1100.3 H884.1" fill="none" stroke="#000" stroke-width="1.58" />
<line x1="871.4" y1="1066.5" x2="871.4" y2="1104.1" stroke="#000" stroke-width="1.0" />
<line x1="875.0" y1="1070.3" x2="875.0" y2="1100.3" stroke="#000" stroke-width="1.2" />
<path d="M886.7,1048.7 H941.4 Q944.0,1049.3 944.0,1053.4 V1116.9 Q944.0,1121.0 941.4,1121.6 H886.7 Q884.1,1121.0 884.1,1116.9 V1053.4 Q884.1,1049.3 886.7,1048.7 Z" fill="none" stroke="#000" stroke-width="1.58" />
<line x1="885.3" y1="1066.7" x2="942.8" y2="1066.7" stroke="#000" stroke-width="1.58" />
<line x1="885.3" y1="1103.5" x2="942.8" y2="1103.5" stroke="#000" stroke-width="1.58" />
<path d="M887.0,1049.4 Q882.0,1058.1 887.0,1066.7" fill="none" stroke="#000" stroke-width="1.15" />
<path d="M941.1,1049.4 Q946.1,1058.1 941.1,1066.7" fill="none" stroke="#000" stroke-width="1.15" />
<path d="M887.0,1066.7 Q882.0,1085.1 887.0,1103.5" fill="none" stroke="#000" stroke-width="1.15" />
<path d="M941.1,1066.7 Q946.1,1085.1 941.1,1103.5" fill="none" stroke="#000" stroke-width="1.15" />
<path d="M887.0,1103.5 Q882.0,1112.2 887.0,1120.9" fill="none" stroke="#000" stroke-width="1.15" />
<path d="M941.1,1103.5 Q946.1,1112.2 941.1,1120.9" fill="none" stroke="#000" stroke-width="1.15" />
<polyline points="769.6,1095.4 769.6,1120.0 750.7,1120.0" fill="none" stroke="#000" stroke-width="1.58" stroke-linejoin="miter" />
<polyline points="750.7,1152.1 769.6,1152.1 769.6,1178.0 750.7,1178.0" fill="none" stroke="#000" stroke-width="1.58" stroke-linejoin="miter" />
<text x="835.5" y="1148.3" font-size="16" text-anchor="start" textLength="135.0" lengthAdjust="spacingAndGlyphs" >POWER CONNECTOR</text>
<line x1="970.9" y1="1152.8" x2="826.5" y2="1152.8" stroke="#111" stroke-width="0.95" />
<line x1="826.5" y1="1152.8" x2="772.5" y2="1117.0" stroke="#111" stroke-width="0.95" />
<polygon points="770.2,1115.2 775.9,1121.4 778.1,1118.2" fill="#000" stroke="none"/>
<text x="837.3" y="1202.7" font-size="16" text-anchor="start" textLength="125.3" lengthAdjust="spacingAndGlyphs" >DATA CONNECTOR</text>
<line x1="963.3" y1="1206.8" x2="815.2" y2="1206.8" stroke="#111" stroke-width="0.95" />
<line x1="815.2" y1="1206.8" x2="772.5" y2="1180.3" stroke="#111" stroke-width="0.95" />
<polygon points="770.2,1178.7 776.1,1184.7 778.2,1181.4" fill="#000" stroke="none"/>
<text x="1367.5" y="27.7" font-size="24" text-anchor="start" textLength="241.0" lengthAdjust="spacingAndGlyphs" >GE-VAC 1024 1024 xxx</text>
<polygon points="1334.2,142.1 1341.9,137.6 1363.8,119.3 1381.1,92.9 1403.0,72.3 1430.3,59.7 1459.5,53.7 1490.5,56.8 1521.5,47.7 1586.2,57.9 1608.0,84.7 1618.1,116.6 1642.7,144.9 1643.3,287.4 1603.5,357.6 1580.7,377.7 1556.1,404.7 1521.5,402.3 1490.5,392.3 1458.2,404.1 1429.4,390.1 1409.3,363.1 1382.0,352.2 1342.8,348.5 1346.8,307.5 1334.2,299.6" fill="none" stroke="#000" stroke-width="1.69" stroke-linejoin="miter" />
<rect x="1358.7" y="79.4" width="259.0" height="294.2" rx="68" fill="none" stroke="#000" stroke-width="1.64"/>
<rect x="1365.8" y="87.1" width="245.2" height="278.7" rx="61" fill="none" stroke="#000" stroke-width="1.64"/>
<rect x="1376.0" y="124.5" width="224.8" height="204.3" rx="0" fill="none" stroke="#000" stroke-width="1.7"/>
<rect x="1386.4" y="134.6" width="203.9" height="184.4" rx="6" fill="none" stroke="#000" stroke-width="1.58"/>
<line x1="1376.0" y1="124.5" x2="1388.2" y2="136.4" stroke="#000" stroke-width="1.3" />
<line x1="1600.8" y1="124.5" x2="1588.5" y2="136.4" stroke="#000" stroke-width="1.3" />
<line x1="1376.0" y1="328.8" x2="1388.2" y2="317.2" stroke="#000" stroke-width="1.3" />
<line x1="1600.8" y1="328.8" x2="1588.5" y2="317.2" stroke="#000" stroke-width="1.3" />
<rect x="1431.4" y="151.7" width="114.7" height="149.9" rx="8" fill="none" stroke="#000" stroke-width="1.75"/>
<line x1="1433.0" y1="158.5" x2="1544.6" y2="158.5" stroke="#000" stroke-width="1.3" />
<line x1="1433.0" y1="294.8" x2="1544.6" y2="294.8" stroke="#000" stroke-width="1.3" />
<rect x="1441.0" y="168.5" width="94.6" height="122.5" rx="0" fill="none" stroke="#444" stroke-width="1.0"/>
<text x="1673.7" y="234.4" font-size="16" text-anchor="start" textLength="138.0" lengthAdjust="spacingAndGlyphs" >READOUT REGISTER</text>
<line x1="1811.6" y1="238.8" x2="1519.3" y2="238.8" stroke="#111" stroke-width="0.95" />
<line x1="1519.3" y1="238.8" x2="1485.2" y2="288.4" stroke="#111" stroke-width="0.95" />
<polygon points="1483.6,290.8 1489.8,285.1 1486.7,283.0" fill="#000" stroke="none"/>
<text x="1660.9" y="383.8" font-size="16" text-anchor="start" textLength="71.0" lengthAdjust="spacingAndGlyphs" >PIXEL (1,1)</text>
<line x1="1731.7" y1="388.0" x2="1652.5" y2="388.0" stroke="#111" stroke-width="0.95" />
<line x1="1652.5" y1="388.0" x2="1538.0" y2="293.6" stroke="#111" stroke-width="0.95" />
<polygon points="1536.3,292.2 1541.4,298.9 1543.8,295.9" fill="#000" stroke="none"/>
<text x="1621.4" y="428.4" font-size="17" text-anchor="start" textLength="172.6" lengthAdjust="spacingAndGlyphs" >GE-VAC 2048 2048 xxx</text>
<polygon points="1564.5,556.8 1572.4,551.5 1603.9,508.6 1616.5,475.7 1642.1,456.1 1674.0,454.7 1704.7,457.3 1736.2,446.1 1767.7,454.8 1792.2,476.5 1831.6,520.9 1836.9,549.8 1850.6,575.2 1850.9,690.2 1845.7,708.6 1839.2,740.1 1813.3,756.4 1780.8,759.7 1762.5,788.8 1730.9,783.9 1704.7,787.8 1674.0,797.9 1641.6,800.9 1626.2,762.6 1596.1,757.6 1571.5,739.3 1571.5,705.1 1564.5,696.3" fill="none" stroke="#000" stroke-width="1.2" stroke-linejoin="miter" />
<rect x="1588.2" y="493.2" width="239.1" height="272.3" rx="62" fill="none" stroke="#000" stroke-width="1.25"/>
<rect x="1594.7" y="500.7" width="226.4" height="258.7" rx="56" fill="none" stroke="#000" stroke-width="1.25"/>
<rect x="1603.9" y="535.2" width="208.1" height="189.2" rx="0" fill="none" stroke="#000" stroke-width="1.3"/>
<rect x="1613.2" y="544.5" width="189.5" height="170.6" rx="5" fill="none" stroke="#000" stroke-width="1.2"/>
<line x1="1603.9" y1="535.2" x2="1614.7" y2="546.0" stroke="#000" stroke-width="1.2" />
<line x1="1812.0" y1="535.2" x2="1801.2" y2="546.0" stroke="#000" stroke-width="1.2" />
<line x1="1603.9" y1="724.4" x2="1614.7" y2="713.6" stroke="#000" stroke-width="1.2" />
<line x1="1812.0" y1="724.4" x2="1801.2" y2="713.6" stroke="#000" stroke-width="1.2" />
<rect x="1637.2" y="559.0" width="141.4" height="141.4" rx="0" fill="none" stroke="#000" stroke-width="1.1"/>
<rect x="1644.6" y="565.9" width="127.5" height="127.5" rx="0" fill="none" stroke="#000" stroke-width="1.25"/>
<text x="1686.3" y="591.8" font-size="11.8" text-anchor="start" textLength="49.5" lengthAdjust="spacingAndGlyphs" >PIXEL (1,1)</text>
<line x1="1735.8" y1="594.1" x2="1677.5" y2="594.1" stroke="#111" stroke-width="0.95" />
<line x1="1677.5" y1="594.1" x2="1646.5" y2="567.6" stroke="#111" stroke-width="0.95" />
<polygon points="1644.8,566.1 1649.3,571.6 1651.0,569.7" fill="#000" stroke="none"/>
<text x="1669.6" y="637.7" font-size="11.4" text-anchor="start" textLength="95.1" lengthAdjust="spacingAndGlyphs" >READOUT REGISTER</text>
<line x1="1764.7" y1="640.6" x2="1662.6" y2="640.6" stroke="#111" stroke-width="0.95" />
<line x1="1662.6" y1="640.6" x2="1646.5" y2="631.8" stroke="#111" stroke-width="0.95" />
<polygon points="1644.8,630.8 1650.3,635.3 1651.6,633.0" fill="#000" stroke="none"/>
<text x="1415.2" y="838.1" font-size="23.6" text-anchor="start" textLength="231.0" lengthAdjust="spacingAndGlyphs" >GE-VAC 1024 256 xxx</text>
<text x="1415.2" y="868.9" font-size="23.6" text-anchor="start" textLength="231.0" lengthAdjust="spacingAndGlyphs" >GE-VAC 2048 512 xxx</text>
<polygon points="1350.8,979.3 1377.1,959.7 1390.3,934.8 1416.7,911.3 1443.1,899.6 1475.3,893.2 1504.0,895.8 1535.4,886.4 1601.3,896.7 1621.8,923.1 1630.6,953.8 1659.9,986.1 1659.9,1120.1 1617.4,1202.2 1572.0,1245.0 1531.0,1241.7 1504.6,1232.9 1472.4,1243.2 1441.6,1229.1 1424.0,1203.6 1394.7,1190.4 1356.6,1187.5 1359.6,1145.0 1350.8,1140.6" fill="none" stroke="#000" stroke-width="1.69" stroke-linejoin="miter" />
<rect x="1375.1" y="919.3" width="259.9" height="293.1" rx="68" fill="none" stroke="#000" stroke-width="1.64"/>
<rect x="1382.4" y="926.6" width="245.2" height="278.5" rx="61" fill="none" stroke="#000" stroke-width="1.64"/>
<rect x="1392.4" y="964.1" width="224.4" height="203.8" rx="0" fill="none" stroke="#000" stroke-width="1.7"/>
<rect x="1402.6" y="973.7" width="204.5" height="184.5" rx="6" fill="none" stroke="#000" stroke-width="1.58"/>
<line x1="1392.4" y1="964.1" x2="1404.4" y2="975.5" stroke="#000" stroke-width="1.3" />
<line x1="1616.8" y1="964.1" x2="1605.3" y2="975.5" stroke="#000" stroke-width="1.3" />
<line x1="1392.4" y1="1167.9" x2="1404.4" y2="1156.4" stroke="#000" stroke-width="1.3" />
<line x1="1616.8" y1="1167.9" x2="1605.3" y2="1156.4" stroke="#000" stroke-width="1.3" />
<rect x="1428.4" y="989.9" width="153.2" height="152.8" rx="0" fill="none" stroke="#ddd" stroke-width="0.7"/>
<rect x="1436.3" y="997.8" width="137.1" height="137.0" rx="0" fill="none" stroke="#ddd" stroke-width="0.7"/>
<rect x="1459.2" y="993.4" width="87.3" height="150.2" rx="7" fill="none" stroke="#000" stroke-width="1.0"/>
<rect x="1468.0" y="997.8" width="72.3" height="144.3" rx="0" fill="none" stroke="#222" stroke-width="1.3"/>
<text x="1500.8" y="1024.7" font-size="16" text-anchor="start" textLength="70.6" lengthAdjust="spacingAndGlyphs" >PIXEL (1,1)</text>
<line x1="1571.4" y1="1028.5" x2="1491.4" y2="1028.5" stroke="#111" stroke-width="0.95" />
<line x1="1491.4" y1="1028.5" x2="1469.8" y2="1004.2" stroke="#111" stroke-width="0.95" />
<polygon points="1468.3,1002.4 1472.3,1009.8 1475.2,1007.3" fill="#000" stroke="none"/>
<text x="1700.9" y="1065.2" font-size="15.8" text-anchor="start" textLength="137.7" lengthAdjust="spacingAndGlyphs" >READOUT REGISTER</text>
<line x1="1838.6" y1="1069.0" x2="1468.0" y2="1069.0" stroke="#111" stroke-width="0.95" />
<polygon points="1468.0,1069.0 1476.2,1070.9 1476.2,1067.1" fill="#000" stroke="none"/>
</svg>
</body></html>
